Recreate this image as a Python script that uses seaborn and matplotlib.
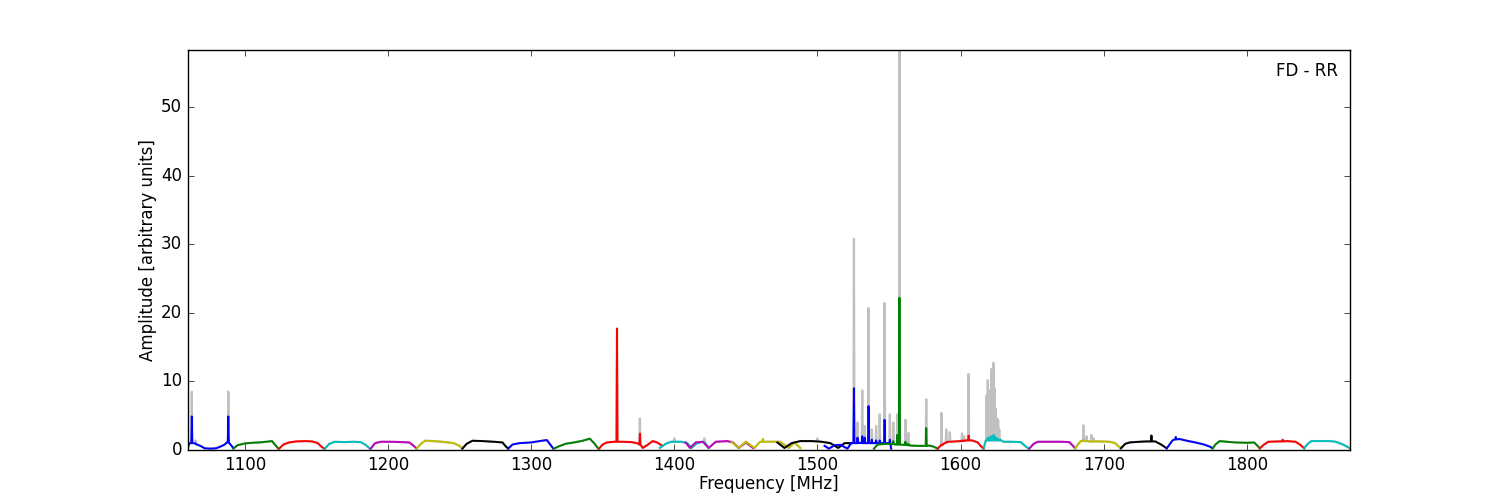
import numpy as np
import pandas as pd
import matplotlib
matplotlib.use('Agg')
import matplotlib.pyplot as plt
import seaborn as sns

# --- subband bandpasses (freq in MHz, amplitude) ---
band_freqs = [
    [1060, 1061.5, 1064.5, 1066, 1069, 1072, 1076, 1080, 1083, 1086, 1087.5, 1090, 1092],
    [1092, 1095, 1100, 1105, 1110, 1115, 1119, 1121, 1123.5],
    [1124, 1127, 1131, 1136, 1142, 1147, 1151, 1153.5, 1155.5],
    [1156, 1159, 1163, 1170, 1176, 1181, 1184, 1187.5],
    [1188, 1191, 1195, 1202, 1210, 1215, 1218, 1220],
    [1220, 1223, 1226, 1232, 1240, 1246, 1250, 1252],
    [1252, 1255, 1259, 1266, 1274, 1280, 1282, 1284],
    [1284, 1287, 1292, 1300, 1306, 1311, 1313, 1315.5],
    [1316, 1319, 1324, 1330, 1336, 1341, 1344, 1347],
    [1347.5, 1350, 1353, 1358, 1364, 1370, 1374, 1378, 1381, 1385, 1388, 1391],
    [1390, 1394, 1398, 1405, 1409, 1412, 1416, 1420, 1424],
    [1408, 1411, 1415, 1420, 1424, 1429, 1437, 1441, 1445, 1450, 1455],
    [1440, 1445, 1450, 1456, 1460, 1466, 1474, 1480, 1484, 1488],
    [1472, 1477, 1482, 1488, 1496, 1503, 1509, 1514.5, 1519, 1524],
    [1505, 1508, 1512, 1516, 1521, 1523.5, 1530, 1540, 1545, 1549, 1551.5],
    [1539.5, 1542, 1548, 1552, 1555, 1560, 1565, 1570, 1578, 1581, 1584],
    [1584, 1587.5, 1591, 1596, 1600, 1604, 1608, 1612, 1614, 1616],
    [1616, 1617.5, 1627.5, 1630, 1636, 1642, 1645, 1647.5],
    [1648, 1651, 1654, 1662, 1670, 1676, 1678.5, 1680],
    [1680, 1682, 1684, 1690, 1697, 1704, 1708, 1710, 1712],
    [1712, 1715, 1718, 1725, 1730, 1736, 1740, 1744],
    [1744, 1746, 1748, 1753, 1758, 1764, 1770, 1774, 1776],
    [1776, 1778, 1781, 1786, 1792, 1800, 1805, 1807, 1809],
    [1809, 1812, 1815, 1822, 1828, 1834, 1837, 1840],
    [1840, 1842.5, 1845, 1852, 1858, 1862, 1866, 1869, 1872],
]
band_amps = [
    [0.3, 1.0, 1.0, 0.85, 0.6, 0.25, 0.2, 0.25, 0.5, 0.8, 1.1, 0.8, 0.3],
    [0.2, 0.7, 0.95, 1.05, 1.1, 1.2, 1.3, 0.8, 0.2],
    [0.2, 0.8, 1.1, 1.25, 1.3, 1.25, 1.0, 0.5, 0.2],
    [0.2, 0.9, 1.2, 1.15, 1.2, 1.15, 0.8, 0.2],
    [0.2, 1.0, 1.2, 1.2, 1.15, 1.1, 0.6, 0.2],
    [0.2, 0.9, 1.35, 1.3, 1.15, 1.0, 0.6, 0.2],
    [0.2, 0.9, 1.35, 1.3, 1.2, 1.1, 0.6, 0.2],
    [0.2, 0.8, 1.0, 1.1, 1.3, 1.45, 0.9, 0.2],
    [0.2, 0.5, 0.9, 1.1, 1.35, 1.65, 1.0, 0.2],
    [0.2, 0.8, 1.1, 1.2, 1.2, 1.15, 1.0, 0.3, 0.7, 1.3, 1.1, 0.7],
    [0.3, 0.9, 1.2, 1.2, 1.0, 0.3, 1.0, 1.2, 0.3],
    [1.1, 0.3, 1.1, 1.2, 0.3, 1.2, 1.3, 1.1, 0.3, 1.1, 0.3],
    [1.2, 0.3, 1.2, 0.3, 1.2, 1.2, 1.2, 0.3, 1.1, 0.3],
    [1.1, 0.3, 1.0, 1.3, 1.3, 1.2, 1.0, 0.3, 1.0, 1.0],
    [0.6, 0.2, 0.7, 0.75, 0.2, 1.0, 1.05, 1.0, 1.0, 1.0, 0.2],
    [0.2, 0.8, 0.9, 0.85, 0.8, 0.75, 0.65, 0.6, 0.65, 0.5, 0.2],
    [0.2, 0.8, 1.2, 1.25, 1.3, 1.4, 1.4, 1.1, 0.6, 0.2],
    [0.2, 1.3, 1.5, 1.2, 1.2, 1.15, 0.6, 0.2],
    [0.2, 0.9, 1.2, 1.2, 1.2, 1.15, 0.6, 0.25],
    [0.25, 0.8, 1.3, 1.25, 1.25, 1.2, 1.0, 0.6, 0.25],
    [0.25, 0.9, 1.1, 1.2, 1.25, 1.25, 0.8, 0.25],
    [0.25, 0.8, 1.4, 1.6, 1.35, 1.1, 0.8, 0.5, 0.25],
    [0.25, 0.8, 1.3, 1.2, 1.1, 1.05, 1.1, 0.7, 0.25],
    [0.25, 0.8, 1.2, 1.25, 1.3, 1.2, 0.8, 0.25],
    [0.25, 0.9, 1.3, 1.3, 1.3, 1.2, 0.9, 0.6, 0.25],
]
cycle = ['b', 'g', 'r', 'c', 'm', 'y', 'k']

# --- RFI spikes: centre freq, local base, raw peak (grey), flagged peak (colour) ---
spike_freq = [1063, 1065.5, 1088.5, 1360, 1376, 1400, 1421, 1462, 1500,
              1525.5, 1528, 1531.3, 1533, 1535.7, 1538, 1541, 1543.5, 1546.9,
              1550.6, 1553, 1555.8, 1557.3, 1561.5, 1563.5, 1576,
              1586.7, 1590, 1592.5, 1601, 1602.5, 1605.6,
              1618.2, 1619.0, 1619.8, 1620.6, 1621.4, 1622.2, 1623.0, 1623.8,
              1624.6, 1625.4, 1626.2, 1627.0,
              1685.8, 1688, 1691.4, 1693, 1733.3, 1750.3, 1825]
spike_base = [1.0, 0.95, 1.1, 1.2, 0.8, 1.2, 1.1, 1.2, 1.25,
              1.0, 1.0, 1.0, 1.0, 1.0, 1.0, 1.0, 1.0, 1.0,
              1.0, 0.85, 0.8, 0.8, 0.75, 0.7, 0.6,
              0.7, 1.1, 1.2, 1.3, 1.35, 1.4,
              1.4, 1.4, 1.4, 1.4, 1.4, 1.4, 1.4, 1.4,
              1.4, 1.4, 1.4, 1.4,
              1.3, 1.3, 1.25, 1.25, 1.25, 1.55, 1.25]
spike_raw = [8.5, 1.4, 8.5, 17.7, 4.6, 1.7, 1.7, 1.6, 1.7,
             30.8, 4.0, 8.7, 3.5, 20.7, 3.0, 3.5, 5.2, 21.4,
             5.2, 4.0, 5.2, 58.3, 4.4, 2.5, 7.4,
             5.4, 3.0, 2.6, 2.4, 2.0, 11.1,
             8.0, 10.2, 6.5, 8.7, 11.8, 7.0, 12.7, 9.0,
             6.0, 4.6, 4.4, 3.0,
             3.6, 2.0, 2.2, 1.7, 2.1, 1.9, 1.5]
spike_flag = [4.9, 0.95, 4.9, 17.7, 2.4, 1.2, 1.1, 1.6, 1.25,
              9.0, 1.8, 2.0, 1.8, 6.4, 1.5, 1.4, 1.4, 4.4,
              1.5, 1.3, 2.2, 22.2, 1.2, 0.9, 3.2,
              0.8, 1.1, 1.2, 1.4, 1.4, 2.1,
              1.5, 1.8, 1.6, 1.9, 2.0, 1.8, 2.2, 2.0,
              1.8, 1.7, 1.6, 1.5,
              1.45, 1.3, 1.3, 1.25, 2.1, 1.9, 1.5]

# build a long table: one row per channel point
rows = []
used = set()
for i, (fr, am) in enumerate(zip(band_freqs, band_amps)):
    for f, a in zip(fr, am):
        rows.append((i, f, a, a))
    for k, f in enumerate(spike_freq):
        if k in used or not (fr[0] <= f <= fr[-1]):
            continue
        used.add(k)
        b = spike_base[k]
        rows.append((i, f - 0.35, b, b))
        rows.append((i, f, spike_raw[k], spike_flag[k]))
        rows.append((i, f + 0.35, b, b))

df = pd.DataFrame(rows, columns=['band', 'freq', 'raw', 'flagged'])
palette = {i: cycle[i % len(cycle)] for i in range(len(band_freqs))}

plt.style.use('classic')
fig, ax = plt.subplots(figsize=(15, 5), dpi=100)
fig.patch.set_facecolor('white')

sns.lineplot(data=df, x='freq', y='raw', units='band', estimator=None,
             color='#c0c0c0', lw=1.6, ax=ax)
sns.lineplot(data=df, x='freq', y='flagged', hue='band', palette=palette,
             estimator=None, lw=1.4, legend=False, ax=ax)

ax.set_xlim(1060, 1872)
ax.set_ylim(0, 58.3)
ax.set_xticks([1100, 1200, 1300, 1400, 1500, 1600, 1700, 1800])
ax.set_yticks([0, 10, 20, 30, 40, 50])
ax.set_xlabel('Frequency [MHz]', labelpad=1)
ax.set_ylabel('Amplitude [arbitrary units]', labelpad=3)
ax.text(0.99, 0.97, 'FD - RR', transform=ax.transAxes, ha='right', va='top',
        fontsize=12)

fig.subplots_adjust(left=0.125, right=0.9, bottom=0.1, top=0.9)
fig.savefig('out.png', dpi=100, facecolor='white')
